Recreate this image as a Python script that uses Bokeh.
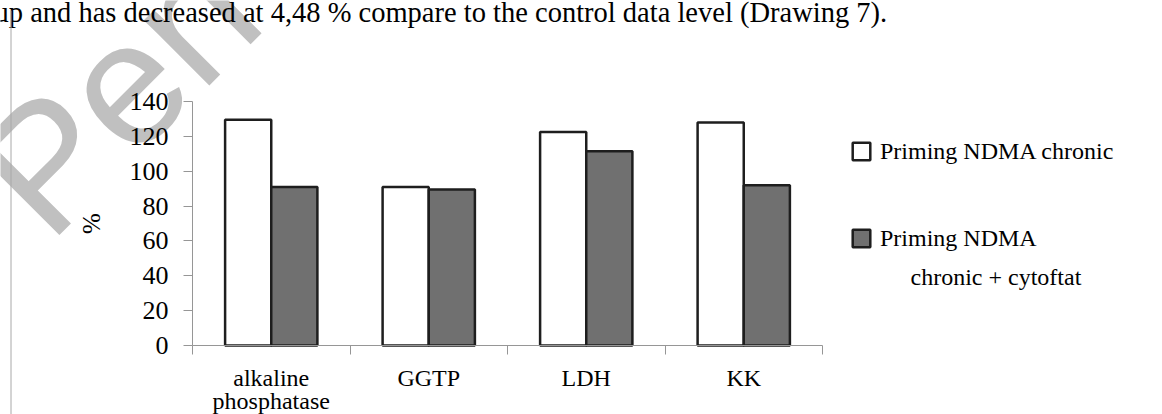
from bokeh.plotting import figure
from bokeh.models import (Range1d, Label, Legend, LegendItem, FixedTicker,
                          ColumnDataSource, Arrow)
from bokeh.embed import file_html
from bokeh.resources import INLINE

# ---- data ----
categories = ["alkaline\nphosphatase", "GGTP", "LDH", "KK"]
series_names = ["Priming NDMA chronic", "Priming NDMA"]
series2_extra = "chronic + cytoftat"
chronic = [129.5, 91, 122.5, 128]
cytoftat = [91, 89.5, 111.5, 92]
y_ticks = [0, 20, 40, 60, 80, 100, 120, 140]
y_label = "%"
header_text = "up and has decreased at 4,48 % compare to the control data level (Drawing 7)."
watermark = "Pen"

# ---- layout (pixels) ----
W, H = 1146, 414
PX_X0, PX_CAT = 192, 157.5          # x-axis start, width of one category
PX_Y0, PX_YTOP = 345, 101           # pixel rows of 0 and 140
Y_MAX = 140
SERIF = "Liberation Serif"
n = len(categories)
centers = [i + 0.5 for i in range(n)]
bounds = [float(i) for i in range(n + 1)]
BAR_W = 0.293
ppu = (PX_Y0 - PX_YTOP) / Y_MAX

p = figure(width=W, height=H,
           x_range=Range1d(-PX_X0 / PX_CAT, (W - PX_X0) / PX_CAT),
           y_range=Range1d(-(H - PX_Y0) / ppu, Y_MAX + PX_YTOP / ppu),
           output_backend="svg", toolbar_location=None,
           min_border=0, min_border_left=0, min_border_right=0,
           min_border_top=0, min_border_bottom=0)
p.grid.visible = False
p.outline_line_color = None
p.background_fill_color = "white"
p.border_fill_color = "white"

# watermark (behind everything)
p.add_layout(Label(x=6, y=H - 202, x_units="screen", y_units="screen", text=watermark,
                   angle=0.785, text_font="Liberation Sans", text_font_size="175px",
                   text_baseline="alphabetic", text_align="left",
                   text_color="#c0c0c0", level="underlay"))

src = ColumnDataSource(dict(x1=[c - BAR_W / 2 for c in centers],
                            x2=[c + BAR_W / 2 for c in centers],
                            chronic=chronic, cytoftat=cytoftat))
r1 = p.vbar(x="x1", top="chronic", width=BAR_W, source=src,
            fill_color="white", line_color="#1e1e1e", line_width=2.5)
r2 = p.vbar(x="x2", top="cytoftat", width=BAR_W, source=src,
            fill_color="#707070", line_color="#1e1e1e", line_width=2.5)

AX_COL = "#969696"
# y axis
ya = p.yaxis[0]
ya.fixed_location = 0
ya.bounds = (0, Y_MAX)
ya.ticker = FixedTicker(ticks=y_ticks)
ya.axis_line_color = AX_COL
ya.major_tick_line_color = AX_COL
ya.minor_tick_line_color = None
ya.major_tick_in = 0
ya.major_tick_out = 9
ya.major_label_text_font = SERIF
ya.major_label_text_font_size = "26px"
ya.major_label_text_color = "black"
ya.major_label_standoff = 15
ya.axis_label = y_label
ya.axis_label_text_font = SERIF
ya.axis_label_text_font_size = "25px"
ya.axis_label_text_font_style = "normal"
ya.axis_label_text_color = "black"
ya.axis_label_standoff = 22

# x axis: ticks at category boundaries, labels at centres
xa = p.xaxis[0]
xa.fixed_location = 0
xa.bounds = (0, n)
xa.ticker = FixedTicker(ticks=centers, minor_ticks=bounds)
xa.major_label_overrides = {c: lab for c, lab in zip(centers, categories)}
xa.axis_line_color = AX_COL
xa.major_tick_line_color = None
xa.minor_tick_line_color = AX_COL
xa.minor_tick_in = 0
xa.minor_tick_out = 9
xa.major_label_text_font = SERIF
xa.major_label_text_font_size = "24px"
xa.major_label_text_line_height = 0.9
xa.major_label_text_color = "black"
xa.major_label_standoff = 10

# legend
legend = Legend(items=[LegendItem(label=series_names[0], renderers=[r1]),
                       LegendItem(label=series_names[1], renderers=[r2])],
                location=(850, H - 251.5), orientation="vertical",
                glyph_width=22, glyph_height=22, label_height=22,
                label_standoff=8, spacing=60, padding=0, margin=0,
                border_line_color=None, background_fill_alpha=0,
                label_text_font=SERIF, label_text_font_size="24px",
                label_text_color="black")
p.add_layout(legend, "center")
p.add_layout(Label(x=910, y=H - 276, x_units="screen", y_units="screen", text=series2_extra,
                   text_font=SERIF, text_font_size="24px", text_color="black",
                   text_baseline="alphabetic"))

# header text line and page border line
p.add_layout(Label(x=-6, y=H - 12, x_units="screen", y_units="screen", text=header_text,
                   text_font=SERIF, text_font_size="28.5px", text_color="black",
                   text_baseline="alphabetic"))
p.add_layout(Arrow(end=None, x_start=10.5, y_start=H - 10, x_end=10.5, y_end=-10,
                   start_units="screen", end_units="screen",
                   line_color="#a8a8a8", line_width=1))

open("out.html", "w").write(file_html(p, INLINE))
